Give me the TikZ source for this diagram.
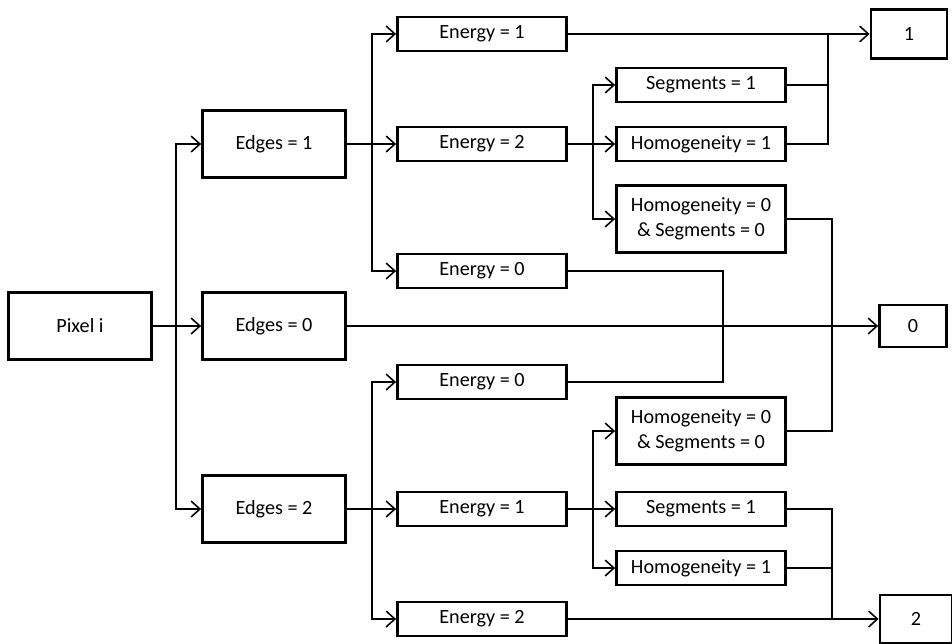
\documentclass[tikz,border=0pt]{standalone}
\usepackage{fontspec}
\setmainfont{Carlito}
\usetikzlibrary{arrows.meta, calc}

\begin{document}
\begin{tikzpicture}[
    x=0.02cm, y=-0.02cm,
    font=\fontsize{11.5}{14}\selectfont,
    box/.style={rectangle, draw=black, line width=1.6pt, minimum width=2.86cm, minimum height=1.34cm, align=center, inner sep=2pt},
    ebox/.style={box, minimum width=3.38cm, minimum height=0.68cm},
    tbox/.style={box, minimum width=3.38cm, minimum height=1.34cm},
    obox/.style={box, minimum width=1.44cm, minimum height=0.96cm},
    arr/.style={-{Straight Barb[length=5pt, width=9pt, line width=0.9pt]}, line width=0.9pt},
    ln/.style={line width=0.9pt}
]
\useasboundingbox (0,0) rectangle (952,643);

% first and second column
\node[box] (pix) at (80,326) {Pixel i};
\node[box] (ed1) at (274,144) {Edges = 1};
\node[box] (ed0) at (274,326) {Edges = 0};
\node[box] (ed2) at (274,509) {Edges = 2};

% energy column
\node[ebox] (en1a) at (482,34) {Energy = 1};
\node[ebox] (en2a) at (482,144) {Energy = 2};
\node[ebox] (en0a) at (482,271) {Energy = 0};
\node[ebox] (en0b) at (482,382) {Energy = 0};
\node[ebox] (en1b) at (482,509) {Energy = 1};
\node[ebox] (en2b) at (482,619) {Energy = 2};

% segments / homogeneity column
\node[ebox] (seg1a) at (701,85) {Segments = 1};
\node[ebox] (hom1a) at (701,144) {Homogeneity = 1};
\node[tbox] (hs0a) at (701,219) {Homogeneity = 0\\\& Segments = 0};
\node[tbox] (hs0b) at (701,431) {Homogeneity = 0\\\& Segments = 0};
\node[ebox] (seg1b) at (701,509) {Segments = 1};
\node[ebox] (hom1b) at (701,568) {Homogeneity = 1};

% results
\node[box, minimum width=1.52cm, minimum height=0.98cm] (out1) at (909,34) {1};
\node[box, minimum width=1.34cm, minimum height=0.84cm] (out0) at (913,326) {0};
\node[obox] (out2) at (916,619) {2};

% branch points
\coordinate (b0) at (176,326);
\coordinate (b1) at (372,144);
\coordinate (b2) at (372,509);
\coordinate (b3) at (593,144);
\coordinate (b4) at (593,509);
\coordinate (j1) at (828,34);
\coordinate (j2) at (723,326);
\coordinate (j3) at (832,326);
\coordinate (j4) at (832,619);

\draw[arr] (pix.east) -- (ed0.west);
\draw[arr] (b0) |- (ed1.west);
\draw[arr] (b0) |- (ed2.west);

\draw[arr] (ed1.east) -- (en2a.west);
\draw[arr] (b1) |- (en1a.west);
\draw[arr] (b1) |- (en0a.west);

\draw[arr] (ed2.east) -- (en1b.west);
\draw[arr] (b2) |- (en0b.west);
\draw[arr] (b2) |- (en2b.west);

\draw[arr] (en2a.east) -- (hom1a.west);
\draw[arr] (b3) |- (seg1a.west);
\draw[arr] (b3) |- (hs0a.west);

\draw[arr] (en1b.east) -- (seg1b.west);
\draw[arr] (b4) |- (hs0b.west);
\draw[arr] (b4) |- (hom1b.west);

% joins into the results
\draw[arr] (en1a.east) -- (out1.west);
\draw[ln] (seg1a.east) -| (j1);
\draw[ln] (hom1a.east) -| (j1);

\draw[arr] (ed0.east) -- (out0.west);
\draw[ln] (en0a.east) -| (j2) |- (en0b.east);
\draw[ln] (hs0a.east) -| (j3) |- (hs0b.east);

\draw[arr] (en2b.east) -- (out2.west);
\draw[ln] (seg1b.east) -| (j4);
\draw[ln] (hom1b.east) -| (j4);
\end{tikzpicture}
\end{document}
